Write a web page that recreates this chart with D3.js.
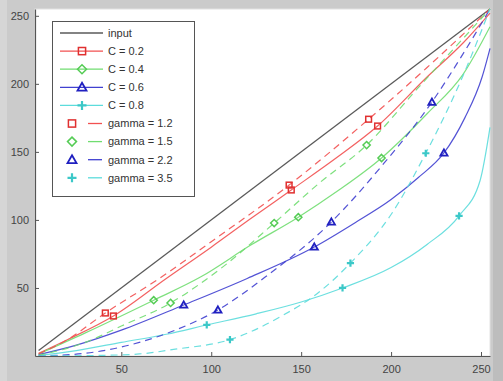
<!DOCTYPE html>
<html>
<head>
<meta charset="utf-8">
<script src="https://cdn.jsdelivr.net/npm/d3@7"></script>
<style>
  body { margin: 0; background: #cbcbcb; }
  svg { display: block; }
  .tick text { font-family: "Liberation Sans", Arial, sans-serif; font-size: 11px; fill: #444; }
  .legtext { font-family: "Liberation Sans", Arial, sans-serif; font-size: 11px; fill: #333; }
</style>
</head>
<body>
<div id="chart"></div>
<script>
// values (input level -> output level)
const inputLine = [[4, 4], [255, 255]];

const c02 = [[4,2],[20,12],[45.6,29.4],[75,57],[100,80],[122,101],[144.5,122],[170,146],[192.5,169],[220,205],[240,230],[255,252]];
const c02Marks = [[45.6,29.4],[144.5,122],[192.5,169]];

const c04 = [[4,1.5],[30,17],[68,41],[94,58],[122,81.5],[148.4,102],[170,121],[194.7,145.5],[220,178],[240,207],[255,242]];
const c04Marks = [[68,41],[148.4,102],[194.7,145.5]];

const c06 = [[4,1],[25,8],[50,19],[84.7,37.5],[120,57],[157.3,80.1],[180,98],[200,115],[215,131],[229.4,149.2],[241,175],[250.6,205],[255,226]];
const c06Marks = [[84.7,37.5],[157.3,80.1],[229.4,149.2]];

const c08 = [[4,0.5],[25,4],[50,10],[75,16],[97.5,22.8],[125,31],[150,39.7],[173,50],[200,65],[220,82],[237.8,103],[249.5,129],[255,168]];
const c08Marks = [[97.5,22.8],[173,50],[237.8,103]];

const g12 = [[4,1.5],[20,12],[41.1,31.6],[70,56],[100,84],[143.3,125.6],[187.5,174],[220,212],[255,255]];
const g12Marks = [[41.1,31.6],[143.3,125.6],[187.5,174]];

const g15 = [[4,0.5],[30,10],[50,22],[77.4,39],[105,64],[135,97.7],[160,127],[186.4,155],[215,197],[235,226],[255,255]];
const g15Marks = [[77.4,39],[135,97.7],[186.4,155]];

const g22 = [[4,0],[30,2],[60,10],[80,19],[103.7,33.8],[130,58],[166.8,98.5],[195,140],[222.7,186.6],[240,222],[255,255]];
const g22Marks = [[103.7,33.8],[166.8,98.5],[222.7,186.6]];

const g35 = [[4,0],[40,0.5],[60,1.5],[80,5],[110.4,12],[140,30],[160,47],[177.4,68.3],[200,104],[219.3,149],[240,206],[255,255]];
const g35Marks = [[110.4,12],[177.4,68.3],[219.3,149]];

const legendLabels = ["input", "C = 0.2", "C = 0.4", "C = 0.6", "C = 0.8",
                      "gamma = 1.2", "gamma = 1.5", "gamma = 2.2", "gamma = 3.5"];
const xTicks = [50, 100, 150, 200, 250];
const yTicks = [50, 100, 150, 200, 250];

const series = [
  {name: legendLabels[1], pts: c02, marks: c02Marks, color: "#f25050", marker: "square", dashed: false},
  {name: legendLabels[2], pts: c04, marks: c04Marks, color: "#70dd70", marker: "diamond", dashed: false},
  {name: legendLabels[3], pts: c06, marks: c06Marks, color: "#4040d0", marker: "triangle", dashed: false},
  {name: legendLabels[4], pts: c08, marks: c08Marks, color: "#5cdcdc", marker: "plus", dashed: false},
  {name: legendLabels[5], pts: g12, marks: g12Marks, color: "#f25050", marker: "square", dashed: true},
  {name: legendLabels[6], pts: g15, marks: g15Marks, color: "#70dd70", marker: "diamond", dashed: true},
  {name: legendLabels[7], pts: g22, marks: g22Marks, color: "#4040d0", marker: "triangle", dashed: true},
  {name: legendLabels[8], pts: g35, marks: g35Marks, color: "#5cdcdc", marker: "plus", dashed: true}
];

const W = 503, H = 381;
const svg = d3.select("#chart").append("svg").attr("width", W).attr("height", H);

svg.append("rect").attr("width", W).attr("height", H).attr("fill", "#cbcbcb");
svg.append("rect").attr("x", 0).attr("width", 7).attr("height", H).attr("fill", "#d6d6d6");
svg.append("rect").attr("x", 493).attr("width", 10).attr("height", H).attr("fill", "#bdbdbd");

const x = d3.scaleLinear().domain([2, 255]).range([35, 490]);
const y = d3.scaleLinear().domain([0, 255]).range([356, 9]);

// axes box
svg.append("rect")
  .attr("x", x(2)).attr("y", y(255))
  .attr("width", x(255) - x(2)).attr("height", y(0) - y(255))
  .attr("fill", "#fff").attr("stroke", "#e2e2e2");

const plot = svg.append("g");
const line = d3.line().x(d => x(d[0])).y(d => y(d[1])).curve(d3.curveMonotoneX);

plot.append("path").datum(inputLine)
  .attr("d", line).attr("fill", "none")
  .attr("stroke", "#5a5a5a").attr("stroke-width", 1.3);

series.forEach(s => {
  plot.append("path").datum(s.pts)
    .attr("d", line).attr("fill", "none")
    .attr("stroke", s.color).attr("stroke-width", 1.2)
    .attr("stroke-dasharray", s.dashed ? "7,5" : null)
    .attr("opacity", 0.9);
});

function drawMarker(g, type, cx, cy, color, r) {
  if (type === "square") {
    g.append("rect").attr("x", cx - r * 0.8).attr("y", cy - r * 0.8).attr("width", r * 1.6).attr("height", r * 1.6)
      .attr("fill", "none").attr("stroke", color).attr("stroke-width", 1.5);
  } else if (type === "diamond") {
    g.append("path").attr("d", `M${cx},${cy-r}L${cx+r},${cy}L${cx},${cy+r}L${cx-r},${cy}Z`)
      .attr("fill", "none").attr("stroke", color).attr("stroke-width", 1.5);
  } else if (type === "triangle") {
    g.append("path").attr("d", `M${cx},${cy-r}L${cx+r},${cy+r*0.75}L${cx-r},${cy+r*0.75}Z`)
      .attr("fill", "none").attr("stroke", color).attr("stroke-width", 1.8);
  } else if (type === "plus") {
    g.append("path").attr("d", `M${cx-r},${cy}H${cx+r}M${cx},${cy-r}V${cy+r}`)
      .attr("fill", "none").attr("stroke", color).attr("stroke-width", 2.2);
  }
}

const markColor = s => s.marker === "triangle" ? "#2020c0" : (s.marker === "square" ? "#e03030" : (s.marker === "plus" ? "#3cc8c8" : "#55cc55"));

series.forEach(s => {
  s.marks.forEach(d => drawMarker(plot, s.marker, x(d[0]), y(d[1]), markColor(s), 3.6));
});

// axes
const xAxis = svg.append("g").attr("transform", `translate(0,${y(0)})`)
  .call(d3.axisBottom(x).tickValues(xTicks).tickSizeInner(-4).tickSizeOuter(0).tickPadding(9));
const yAxis = svg.append("g").attr("transform", `translate(${x(2)},0)`)
  .call(d3.axisLeft(y).tickValues(yTicks).tickSizeInner(-4).tickSizeOuter(0).tickPadding(6));
[xAxis, yAxis].forEach(a => {
  a.select(".domain").attr("stroke", "#555").attr("stroke-width", 1.2);
  a.selectAll(".tick line").attr("stroke", "#555");
});

// legend
const leg = svg.append("g");
leg.append("rect").attr("x", 52.5).attr("y", 21.5).attr("width", 142).attr("height", 175)
  .attr("fill", "#fff").attr("stroke", "#555").attr("stroke-width", 1);

const rowY = i => 33 + i * 18.1;
leg.append("line").attr("x1", 60).attr("x2", 103).attr("y1", rowY(0)).attr("y2", rowY(0))
  .attr("stroke", "#5a5a5a").attr("stroke-width", 1.3);

series.forEach((s, i) => {
  const yy = rowY(i + 1);
  if (!s.dashed) {
    leg.append("line").attr("x1", 60).attr("x2", 103).attr("y1", yy).attr("y2", yy)
      .attr("stroke", s.color).attr("stroke-width", 1.3);
    drawMarker(leg, s.marker, 82, yy, markColor(s), 4.5);
  } else {
    leg.append("line").attr("x1", 88).attr("x2", 102).attr("y1", yy).attr("y2", yy)
      .attr("stroke", s.color).attr("stroke-width", 1.3);
    drawMarker(leg, s.marker, 72, yy, markColor(s), 4.5);
  }
});

leg.selectAll("text.legtext").data(legendLabels).enter().append("text")
  .attr("class", "legtext")
  .attr("x", 108).attr("y", (d, i) => rowY(i)).attr("dy", "0.35em")
  .text(d => d);
</script>
</body>
</html>
